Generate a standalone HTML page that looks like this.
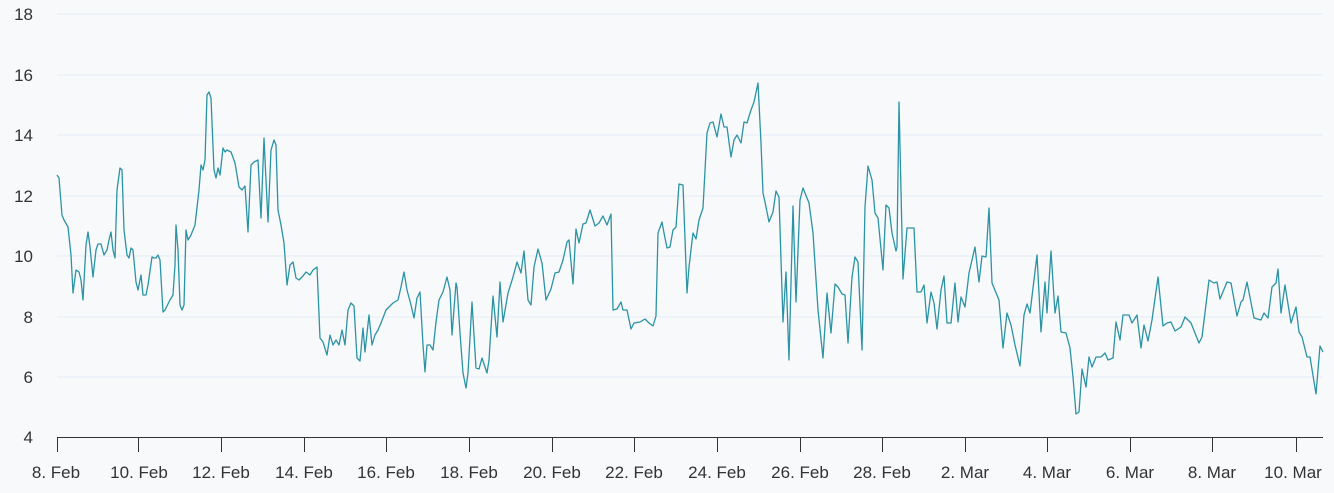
<!DOCTYPE html>
<html><head><meta charset="utf-8"><style>
html,body{margin:0;padding:0;background:#f8f9fb;}
svg{display:block;}
text{font-family:"Liberation Sans",sans-serif;font-size:17px;fill:#333;}
</style></head><body>
<svg width="1334" height="493" viewBox="0 0 1334 493">
<rect width="1334" height="493" fill="#f8f9fb"/>
<g stroke="#e4edf7" stroke-width="1">
<line x1="57" y1="14" x2="1323" y2="14"/>
<line x1="57" y1="75" x2="1323" y2="75"/>
<line x1="57" y1="135" x2="1323" y2="135"/>
<line x1="57" y1="196" x2="1323" y2="196"/>
<line x1="57" y1="256" x2="1323" y2="256"/>
<line x1="57" y1="317" x2="1323" y2="317"/>
<line x1="57" y1="377" x2="1323" y2="377"/>
</g>
<g text-anchor="end">
<text x="33" y="20">18</text><text x="33" y="81">16</text><text x="33" y="141">14</text>
<text x="33" y="202">12</text><text x="33" y="262">10</text><text x="33" y="323">8</text>
<text x="33" y="383">6</text><text x="33" y="443">4</text>
</g>
<line x1="57" y1="437.5" x2="1323" y2="437.5" stroke="#333" stroke-width="1"/>
<g stroke="#333" stroke-width="1">
<line x1="57.5" y1="437" x2="57.5" y2="452"/><line x1="138.5" y1="437" x2="138.5" y2="452"/>
<line x1="221.5" y1="437" x2="221.5" y2="452"/><line x1="304.5" y1="437" x2="304.5" y2="452"/>
<line x1="386.5" y1="437" x2="386.5" y2="452"/><line x1="469.5" y1="437" x2="469.5" y2="452"/>
<line x1="552.5" y1="437" x2="552.5" y2="452"/><line x1="634.5" y1="437" x2="634.5" y2="452"/>
<line x1="717.5" y1="437" x2="717.5" y2="452"/><line x1="800.5" y1="437" x2="800.5" y2="452"/>
<line x1="882.5" y1="437" x2="882.5" y2="452"/><line x1="965.5" y1="437" x2="965.5" y2="452"/>
<line x1="1047.5" y1="437" x2="1047.5" y2="452"/><line x1="1130.5" y1="437" x2="1130.5" y2="452"/>
<line x1="1212.5" y1="437" x2="1212.5" y2="452"/><line x1="1296.5" y1="437" x2="1296.5" y2="452"/>
</g>
<g text-anchor="middle">
<text x="56" y="478">8. Feb</text><text x="139" y="478">10. Feb</text><text x="221" y="478">12. Feb</text>
<text x="304" y="478">14. Feb</text><text x="386" y="478">16. Feb</text><text x="469" y="478">18. Feb</text>
<text x="552" y="478">20. Feb</text><text x="634" y="478">22. Feb</text><text x="717" y="478">24. Feb</text>
<text x="800" y="478">26. Feb</text><text x="882" y="478">28. Feb</text><text x="965" y="478">2. Mar</text>
<text x="1047" y="478">4. Mar</text><text x="1130" y="478">6. Mar</text><text x="1212" y="478">8. Mar</text>
<text x="1293" y="478">10. Mar</text>
</g>
<polyline fill="none" stroke="#2b93a5" stroke-width="1.3" stroke-linejoin="round" points="
57,175 59,178 62,215 64,220 68,227 71,255 73,293 76,270 79,272 81,280 83,300 86,245 88,232 90,247 93,277 96,250 98,244 101,244 104,255 107,250 109,240 111,232 113,250 115,258 117,190 120,168 122,170 124,230 127,255 129,258 131,248 133,250 136,282 138,290 141,275 143,295 146,295 148,285 152,257 154,258 156,258 158,255 160,260 163,312 165,310 170,300 173,295 175,265 176,225 178,250 180,305 182,310 184,305 186,230 188,240 191,235 195,225 199,190 201,165 203,170 205,160 207,95 209,92 211,98 214,170 216,178 218,168 220,175 223,148 225,152 227,150 231,152 235,163 239,187 242,190 245,186 248,232 251,165 254,162 258,160 261,218 264,138 268,222 271,150 274,140 276,145 278,210 281,225 284,243 287,285 290,265 293,262 296,278 299,280 303,276 306,272 310,275 313,270 317,267 320,338 323,342 327,355 330,335 333,345 336,340 339,345 342,330 345,345 348,310 351,303 354,306 357,358 360,361 363,328 365,352 369,315 372,345 375,335 378,330 381,323 386,310 393,303 398,300 401,287 404,272 407,290 411,305 414,318 417,298 420,292 423,345 425,372 427,345 430,345 433,350 436,322 439,300 443,292 447,277 450,290 452,335 456,283 457,287 460,333 463,373 466,388 468,373 472,302 476,368 479,369 482,358 487,373 489,360 493,296 497,337 500,282 503,322 508,293 513,277 517,262 521,273 524,251 528,300 531,305 534,267 538,249 542,263 546,300 551,289 555,273 559,272 563,260 567,242 569,240 573,284 576,229 579,243 583,224 586,223 590,210 595,226 599,223 603,216 607,225 611,214 613,310 617,309 621,302 623,310 627,310 631,329 634,323 640,322 645,319 649,323 653,326 656,316 658,233 662,222 664,233 667,248 670,247 673,230 676,227 679,184 683,185 687,293 689,267 693,233 696,239 699,220 703,208 707,133 710,123 713,122 717,137 721,114 724,127 727,127 731,157 734,140 737,135 741,143 744,122 747,123 751,110 754,102 758,83 761,143 763,193 765,202 769,222 773,212 776,191 779,197 783,322 786,272 789,360 793,206 796,302 800,200 803,188 809,203 813,233 818,310 823,358 827,293 831,333 835,284 838,287 842,294 845,295 848,343 852,277 855,257 858,262 862,350 865,207 868,166 872,180 875,213 878,218 883,270 886,205 889,208 892,233 896,251 897,247 899,102 903,279 907,228 914,228 917,292 921,292 924,285 927,323 931,292 934,303 937,329 941,290 944,276 947,323 951,323 955,283 958,322 961,297 965,307 969,273 975,247 979,282 982,256 986,257 989,208 992,283 999,300 1003,348 1007,313 1011,325 1015,345 1020,366 1024,315 1027,304 1030,313 1037,255 1041,332 1045,282 1047,313 1051,251 1055,313 1058,296 1061,332 1066,333 1070,348 1073,377 1076,414 1079,412 1082,369 1086,387 1089,357 1092,367 1096,357 1101,357 1105,353 1108,360 1113,358 1116,322 1120,340 1123,315 1129,315 1132,323 1137,315 1141,348 1144,325 1148,341 1152,320 1158,277 1163,326 1167,323 1171,322 1175,331 1181,327 1185,317 1191,323 1199,343 1202,337 1209,280 1214,283 1217,282 1220,299 1227,282 1231,283 1237,316 1241,302 1243,300 1247,282 1254,318 1261,320 1264,313 1268,318 1272,287 1276,283 1278,269 1281,313 1285,285 1291,323 1296,307 1299,332 1302,337 1307,357 1310,357 1316,394 1320,346 1323,352"/>
</svg>
</body></html>
